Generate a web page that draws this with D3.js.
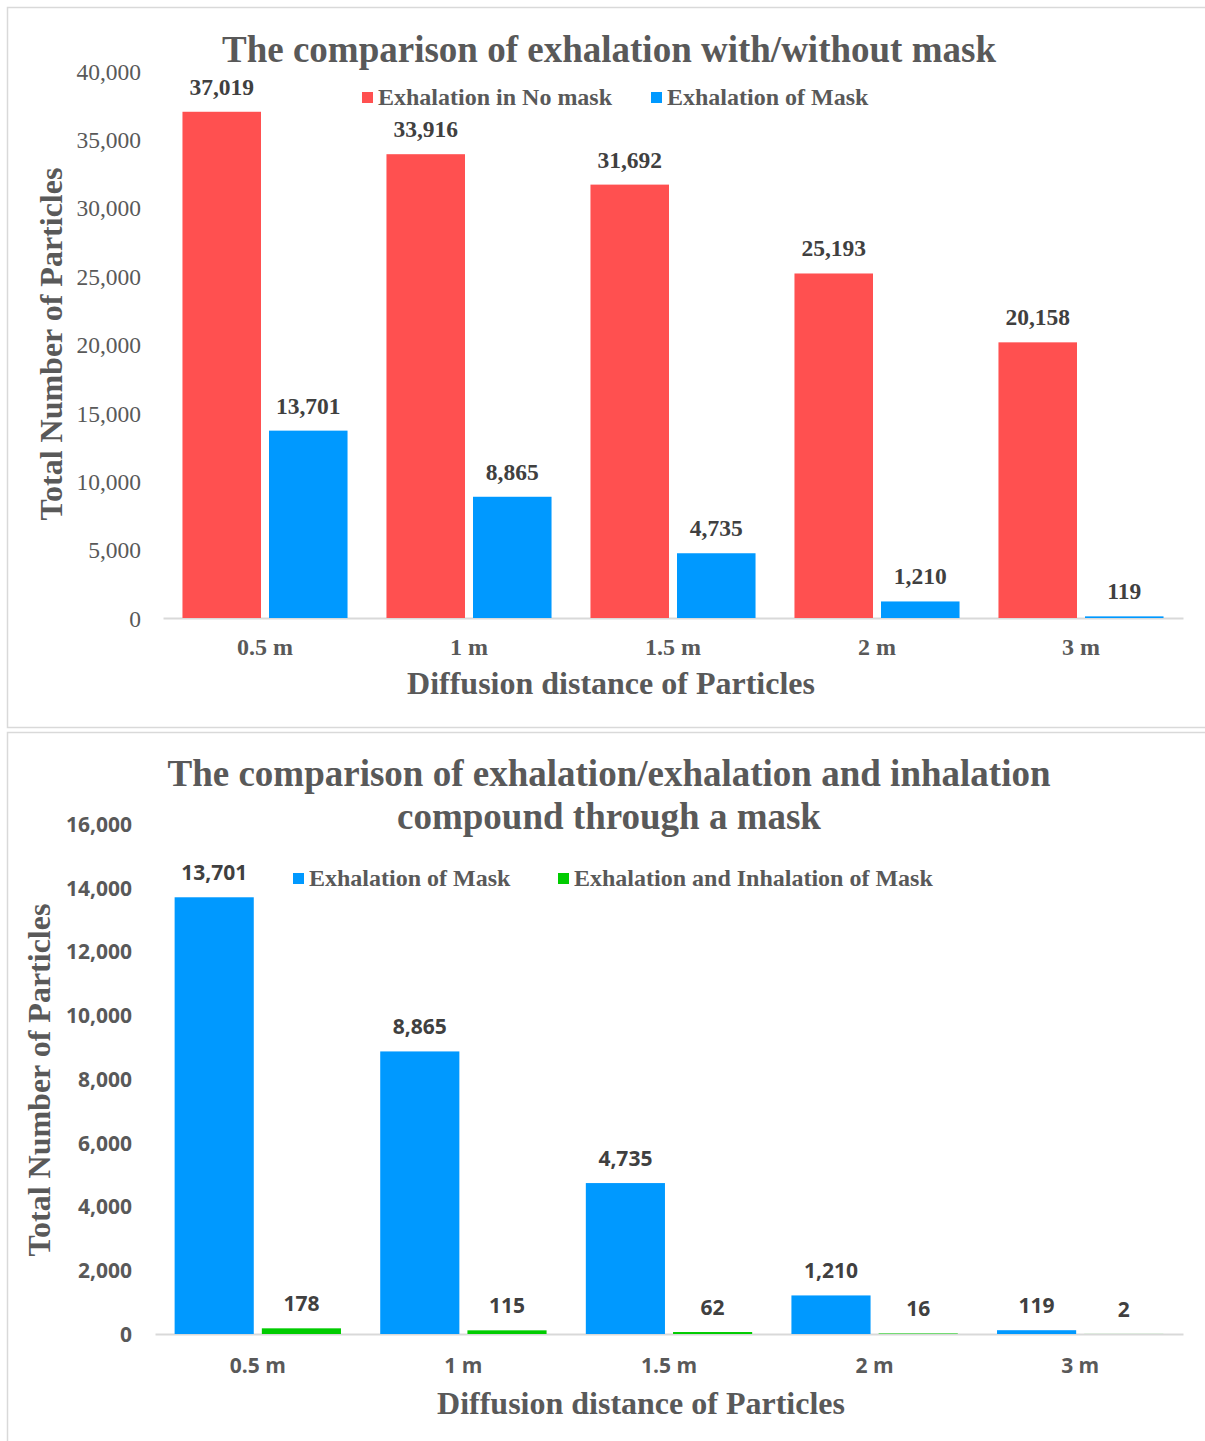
<!DOCTYPE html>
<html>
<head>
<meta charset="utf-8">
<script src="https://cdn.jsdelivr.net/npm/d3@7"></script>
<style>
  html, body { margin: 0; padding: 0; background: #fff; }
  svg { display: block; }
</style>
</head>
<body>
<svg id="chart" width="1205" height="1441"></svg>
<script>
// Diffusion distances (x categories, shared by both panels)
const distances = ["0.5 m", "1 m", "1.5 m", "2 m", "3 m"];

// Panel 1: exhalation with / without mask
const noMaskExhale = [37019, 33916, 31692, 25193, 20158];
const maskExhale = [13701, 8865, 4735, 1210, 119];
const topSeries = ["Exhalation in No mask", "Exhalation of Mask"];
const topTicks = [0, 5000, 10000, 15000, 20000, 25000, 30000, 35000, 40000];

// Panel 2: exhalation vs exhalation + inhalation through a mask
const maskExhaleInhale = [178, 115, 62, 16, 2];
const bottomSeries = ["Exhalation of Mask", "Exhalation and Inhalation of Mask"];
const bottomTicks = [0, 2000, 4000, 6000, 8000, 10000, 12000, 14000, 16000];

const RED = "#FF5050", BLUE = "#0099FF", GREEN = "#00CC00";
const TEXT = "#595959", LABEL = "#404040", RULE = "#D9D9D9";
const SERIF = "'Liberation Serif', 'Times New Roman', serif";
const SANS = "'Open Sans', 'Noto Sans', sans-serif";
const fmt = d3.format(",");

const svg = d3.select("#chart");

// panel frames
svg.append("rect").attr("x", 7.5).attr("y", 7.5).attr("width", 1205).attr("height", 720)
  .attr("fill", "none").attr("stroke", RULE).attr("stroke-width", 1.5);
svg.append("rect").attr("x", 7.5).attr("y", 732.5).attr("width", 1205).attr("height", 720)
  .attr("fill", "none").attr("stroke", RULE).attr("stroke-width", 1.5);

function drawPanel(cfg) {
  const g = svg.append("g");
  const x0 = d3.scaleBand().domain(distances).range([cfg.left, cfg.right]).padding(0);
  const x1 = d3.scaleBand().domain([0, 1]).range([0, x0.bandwidth()])
    .paddingInner(0.0925).paddingOuter(0.225);
  const y = d3.scaleLinear().domain([0, cfg.max]).range([cfg.base, cfg.top]);

  // title
  const title = g.append("text").attr("text-anchor", "middle")
    .attr("font-family", SERIF).attr("font-weight", "bold").attr("font-size", 37)
    .attr("fill", TEXT);
  cfg.title.forEach((line, i) => {
    title.append("tspan").attr("x", cfg.titleX).attr("y", cfg.titleY + i * cfg.titleLead).text(line);
  });

  // y axis labels (no axis line, just ticks text)
  const yAxis = d3.axisLeft(y).tickValues(cfg.ticks).tickFormat(fmt).tickSize(0).tickPadding(0);
  const ya = g.append("g").attr("transform", `translate(${cfg.tickX},0)`).call(yAxis);
  ya.select(".domain").remove();
  ya.selectAll("text").attr("font-family", cfg.tickFont).attr("font-size", cfg.tickSize)
    .attr("font-weight", cfg.tickWeight).attr("fill", TEXT).attr("dy", "0.35em");

  // x axis
  const xAxis = d3.axisBottom(x0).tickSize(0).tickPadding(0);
  const xa = g.append("g").attr("transform", `translate(0,${cfg.base})`).call(xAxis);
  xa.select(".domain").attr("stroke", RULE).attr("stroke-width", 2);
  xa.selectAll("text").attr("font-family", cfg.catFont).attr("font-size", cfg.catSize)
    .attr("font-weight", "bold").attr("fill", TEXT).attr("dy", null).attr("y", cfg.catY - cfg.base);

  // bars
  cfg.values.forEach((vals, s) => {
    const grp = g.append("g");
    grp.selectAll("rect").data(vals).join("rect")
      .attr("x", (d, i) => x0(distances[i]) + x1(s))
      .attr("width", x1.bandwidth())
      .attr("y", d => y(d))
      .attr("height", d => cfg.base - y(d))
      .attr("fill", cfg.colors[s]);
    grp.selectAll("text").data(vals).join("text")
      .attr("x", (d, i) => x0(distances[i]) + x1(s) + x1.bandwidth() / 2)
      .attr("y", d => y(d) - cfg.labelGap)
      .attr("text-anchor", "middle")
      .attr("font-family", cfg.valFont).attr("font-size", cfg.valSize)
      .attr("font-weight", "bold").attr("fill", LABEL)
      .text(d => fmt(d));
  });

  // legend
  cfg.series.forEach((name, s) => {
    const lx = cfg.legendX[s];
    g.append("rect").attr("x", lx).attr("y", cfg.legendY - 13).attr("width", 11).attr("height", 11)
      .attr("fill", cfg.colors[s]);
    g.append("text").attr("x", lx + 16).attr("y", cfg.legendY)
      .attr("font-family", SERIF).attr("font-weight", "bold").attr("font-size", 24)
      .attr("fill", TEXT).text(name);
  });

  // axis titles
  g.append("text").attr("x", cfg.xTitleX).attr("y", cfg.xTitleY).attr("text-anchor", "middle")
    .attr("font-family", SERIF).attr("font-weight", "bold").attr("font-size", 32)
    .attr("fill", TEXT).text("Diffusion distance of Particles");
  g.append("text")
    .attr("transform", `translate(${cfg.yTitleX},${cfg.yTitleY}) rotate(-90)`)
    .attr("text-anchor", "middle")
    .attr("font-family", SERIF).attr("font-weight", "bold").attr("font-size", 32)
    .attr("fill", TEXT).text("Total Number of Particles");
}

drawPanel({
  left: 163, right: 1183, top: 71, base: 618, max: 40000,
  ticks: topTicks, tickX: 141, tickFont: SERIF, tickSize: 23.5, tickWeight: "normal",
  catFont: SERIF, catSize: 24, catY: 655,
  valFont: SERIF, valSize: 23.5, labelGap: 17,
  values: [noMaskExhale, maskExhale], colors: [RED, BLUE], series: topSeries,
  legendX: [362, 651], legendY: 105,
  title: ["The comparison of exhalation with/without mask"], titleX: 609, titleY: 62, titleLead: 0,
  xTitleX: 611, xTitleY: 694, yTitleX: 62, yTitleY: 344
});

drawPanel({
  left: 155, right: 1183, top: 824, base: 1334, max: 16000,
  ticks: bottomTicks, tickX: 132, tickFont: SANS, tickSize: 21, tickWeight: "bold",
  catFont: SANS, catSize: 21, catY: 1373,
  valFont: SANS, valSize: 21, labelGap: 17,
  values: [maskExhale, maskExhaleInhale], colors: [BLUE, GREEN], series: bottomSeries,
  legendX: [293, 558], legendY: 886,
  title: ["The comparison of exhalation/exhalation and inhalation", "compound through a mask"],
  titleX: 609, titleY: 786, titleLead: 43,
  xTitleX: 641, xTitleY: 1414, yTitleX: 50, yTitleY: 1080
});
</script>
</body>
</html>
